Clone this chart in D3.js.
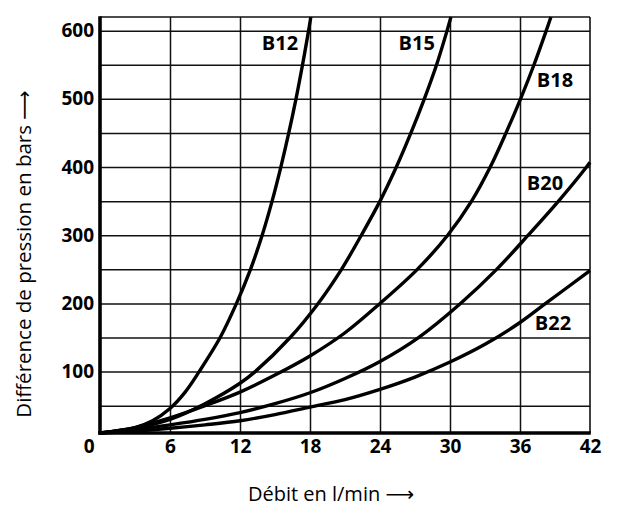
<!DOCTYPE html>
<html>
<head>
<meta charset="utf-8">
<script src="https://cdn.jsdelivr.net/npm/d3@7"></script>
<style>
  body { margin: 0; background: #fff; }
  svg { display: block; }
  text { font-family: "Open Sans", "DejaVu Sans", sans-serif; fill: #000; }
</style>
</head>
<body>
<svg id="chart" width="620" height="508"></svg>
<script>
// tick values
const flowTicks = [0, 6, 12, 18, 24, 30, 36, 42];
const pressureTicks = [100, 200, 300, 400, 500, 600];
const pressureGrid = [50, 100, 150, 200, 250, 300, 350, 400, 450, 500, 550, 600];

// curves: [flow l/min, pressure bar]
const b12 = [[0,10],[3,18],[4.5,28],[6,46],[7.3,70],[8.5,100],[10.3,150],[11.7,200],[12.9,250],[13.9,300],[14.75,350],[15.5,400],[16.18,450],[16.8,500],[17.36,550],[17.88,600],[18.07,620]];
const b15 = [[0,10],[3,17],[6,30],[9,53],[12,83],[13.3,100],[16.3,150],[18.7,200],[20.7,250],[22.4,300],[24,350],[25.4,400],[26.65,450],[27.8,500],[28.85,550],[29.75,600],[30.08,620]];
const b18 = [[0,10],[3,18],[6,32],[9,50],[12,70],[15,95],[18,123],[21,157],[24,200],[27.2,250],[29.8,300],[31.85,350],[33.45,400],[34.8,450],[36.05,500],[37.2,550],[38.25,600],[38.65,620]];
const b20 = [[0,10],[3,15],[6,22],[9,30],[12,40],[15,53],[18,69],[21,90],[24,115],[27.3,150],[30.9,200],[34,250],[36.7,300],[39.3,350],[41.7,400],[42,407]];
const b22 = [[0,10],[3,13],[6,17],[9,22],[12,28],[15,37],[18,48],[21,59],[24,74],[27,92],[30,114],[33,140],[36,172],[38.2,200],[42,248]];

const seriesNames = ["B12", "B15", "B18", "B20", "B22"];
const seriesData = [b12, b15, b18, b20, b22];

const svg = d3.select("#chart");
const pLeft = 100, pRight = 590, pTop = 17, pBottom = 433;

const x = d3.scaleLinear().domain([0, 42]).range([pLeft, pRight]);
const y = d3.scaleLinear().domain([10, 620]).range([pBottom, pTop]);

// grid
svg.append("g")
  .attr("transform", `translate(0,${pBottom})`)
  .call(d3.axisBottom(x).tickValues(flowTicks.slice(1, -1)).tickSize(-(pBottom - pTop)).tickFormat(""))
  .call(g => g.select(".domain").remove())
  .selectAll("line").attr("stroke", "#111").attr("stroke-width", 1.5);

svg.append("g")
  .attr("transform", `translate(${pLeft},0)`)
  .call(d3.axisLeft(y).tickValues(pressureGrid).tickSize(-(pRight - pLeft)).tickFormat(""))
  .call(g => g.select(".domain").remove())
  .selectAll("line").attr("stroke", "#111").attr("stroke-width", 1.5);

// frame
svg.append("line").attr("x1", pLeft).attr("x2", pRight).attr("y1", pTop).attr("y2", pTop)
  .attr("stroke", "#111").attr("stroke-width", 1.6);
svg.append("line").attr("x1", pRight).attr("x2", pRight).attr("y1", pTop).attr("y2", pBottom)
  .attr("stroke", "#111").attr("stroke-width", 1.6);
svg.append("line").attr("x1", pLeft).attr("x2", pLeft).attr("y1", pTop - 0.8).attr("y2", pBottom + 1.8)
  .attr("stroke", "#000").attr("stroke-width", 3.6);
svg.append("line").attr("x1", pLeft - 1.8).attr("x2", pRight + 0.8).attr("y1", pBottom).attr("y2", pBottom)
  .attr("stroke", "#000").attr("stroke-width", 3.6);

// tick labels
svg.append("g")
  .attr("transform", `translate(${pLeft},0)`)
  .call(d3.axisLeft(y).tickValues(pressureTicks).tickSize(0).tickPadding(6))
  .call(g => g.select(".domain").remove())
  .selectAll("text")
  .attr("font-family", "Open Sans").attr("font-weight", 700).attr("font-size", 19);

svg.append("g")
  .attr("transform", `translate(0,${pBottom})`)
  .call(d3.axisBottom(x).tickValues(flowTicks).tickSize(0).tickPadding(7))
  .call(g => g.select(".domain").remove())
  .selectAll("text")
  .attr("font-family", "Open Sans").attr("font-weight", 700).attr("font-size", 19)
  .attr("text-anchor", d => d === 0 ? "end" : "middle")
  .attr("dx", d => d === 0 ? -6 : 0);

// curves
const line = d3.line()
  .x(d => x(d[0]))
  .y(d => y(d[1]))
  .curve(d3.curveCatmullRom.alpha(0.5));

svg.append("g").selectAll("path")
  .data(seriesData)
  .join("path")
  .attr("d", line)
  .attr("fill", "none")
  .attr("stroke", "#000")
  .attr("stroke-width", 3.4)
  .attr("stroke-linejoin", "round");

// curve labels, placed in data units
const labelAt = [[15.43, 583], [27.15, 583], [39.0, 529], [38.14, 377], [38.83, 172]];
svg.append("g").selectAll("text")
  .data(seriesNames)
  .join("text")
  .attr("x", (d, i) => x(labelAt[i][0]))
  .attr("y", (d, i) => y(labelAt[i][1]))
  .attr("text-anchor", "middle")
  .attr("dominant-baseline", "central")
  .attr("font-weight", 700)
  .attr("font-size", 20)
  .text(d => d);

// axis titles
svg.append("text")
  .attr("x", 331).attr("y", 501)
  .attr("text-anchor", "middle")
  .attr("font-size", 20)
  .text("Débit en l/min ⟶");

svg.append("text")
  .attr("transform", "translate(31,254) rotate(-90)")
  .attr("text-anchor", "middle")
  .attr("font-size", 20.5)
  .text("Différence de pression en bars ⟶");
</script>
</body>
</html>
